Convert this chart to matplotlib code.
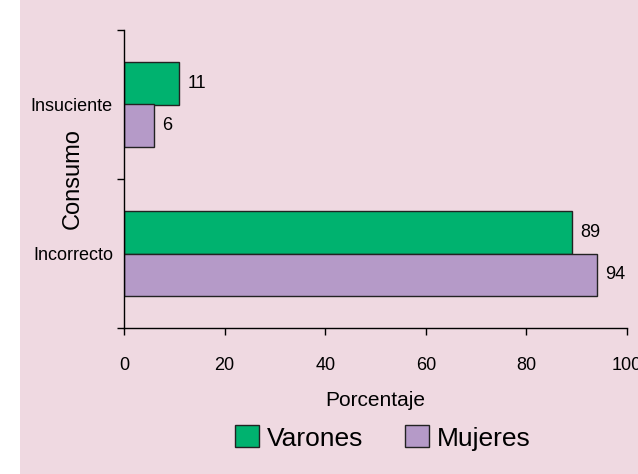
import matplotlib
matplotlib.use("Agg")
import matplotlib.pyplot as plt
from matplotlib.patches import Rectangle, Patch

plt.rcParams['font.family'] = ['Liberation Sans', 'DejaVu Sans']

categories = ["Incorrecto", "Insuciente"]
varones = [89, 11]
mujeres = [94, 6]
series_names = ["Varones", "Mujeres"]
xticks = [0, 20, 40, 60, 80, 100]

bg = "#EFD9E1"
green = "#00B26F"
purple = "#B59AC8"
edge = "#222222"

fig = plt.figure(figsize=(6.38, 4.74), dpi=100, facecolor=bg)
fig.patches.append(Rectangle((0, 0), 20/638, 1, transform=fig.transFigure,
                             facecolor="white", edgecolor="none", zorder=0))
ax = fig.add_axes([124/638, (474-328)/474, (627-124)/638, (328-30)/474])
ax.set_facecolor(bg)

h = 0.285
pos = list(range(len(categories)))
bv = ax.barh([p + h/2 for p in pos], varones, height=h, color=green, edgecolor=edge, linewidth=1)
bm = ax.barh([p - h/2 for p in pos], mujeres, height=h, color=purple, edgecolor=edge, linewidth=1)

for bars, vals in ((bv, varones), (bm, mujeres)):
    for b, v in zip(bars, vals):
        ax.annotate(str(v), (v, b.get_y() + b.get_height()/2), xytext=(6, 0),
                    textcoords="offset points", va="center", ha="left", fontsize=13)

ax.set_xlim(0, 100)
ax.set_ylim(-0.5, len(categories) - 0.5)
ax.set_xticks(xticks)
ax.set_xticklabels([str(t) for t in xticks], fontsize=13)
ax.set_yticks([p - 0.5 for p in range(len(categories) + 1)])
ax.set_yticklabels([])
ax.set_yticks(pos, minor=True)
ax.set_yticklabels(categories, minor=True, fontsize=13)
ax.tick_params(axis='y', which='minor', length=0, pad=8)
ax.tick_params(axis='y', which='major', length=5, width=1, direction='out')
ax.tick_params(axis='x', length=5, width=1, direction='out', pad=16)
for s in ("top", "right"):
    ax.spines[s].set_visible(False)
for s in ("left", "bottom"):
    ax.spines[s].set_linewidth(1)
    ax.spines[s].set_color("black")

ax.set_xlabel("Porcentaje", fontsize=15, labelpad=12)
ax.set_ylabel("Consumo", fontsize=17)
ax.yaxis.set_label_coords(-0.08, 0.5)

handles = [Patch(facecolor=green, edgecolor=edge, label=series_names[0]),
           Patch(facecolor=purple, edgecolor=edge, label=series_names[1])]
fig.legend(handles=handles, loc="center", bbox_to_anchor=(383/638, 1 - 438/474), ncol=2,
           frameon=False, fontsize=19, handlelength=0.9, handleheight=0.9,
           handletextpad=0.3, columnspacing=1.6)

fig.savefig("out.png", dpi=100, facecolor=bg)
